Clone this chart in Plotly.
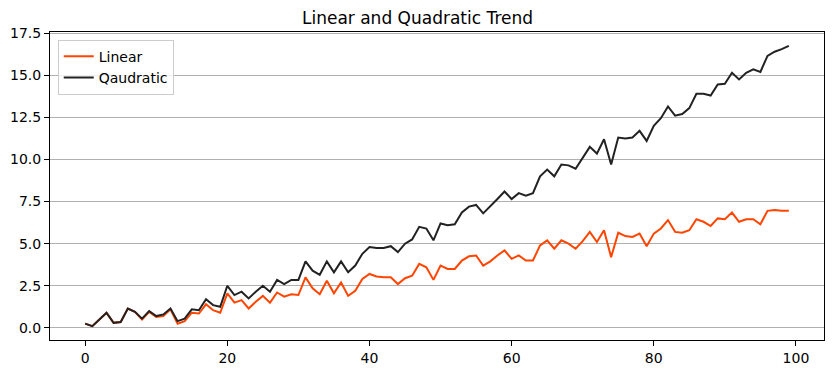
import plotly.graph_objects as go

x_values = list(range(100))

linear = [0.25, 0.1, 0.5, 0.9, 0.3, 0.35, 1.15, 0.95, 0.5, 0.95,
          0.65, 0.7, 1.1, 0.25, 0.4, 0.9, 0.85, 1.4, 1.05, 0.9,
          2.05, 1.5, 1.65, 1.15, 1.55, 1.9, 1.5, 2.1, 1.85, 2.0,
          1.95, 3.0, 2.35, 2.0, 2.8, 2.05, 2.7, 1.9, 2.2, 2.9,
          3.2, 3.05, 3.0, 3.0, 2.6, 2.95, 3.1, 3.8, 3.6, 2.85,
          3.7, 3.5, 3.5, 4.0, 4.25, 4.3, 3.7, 3.95, 4.3, 4.6,
          4.1, 4.3, 4.0, 4.0, 4.9, 5.2, 4.7, 5.2, 5.0, 4.7,
          5.15, 5.7, 5.1, 5.8, 4.2, 5.65, 5.45, 5.4, 5.6, 4.85,
          5.6, 5.9, 6.4, 5.7, 5.65, 5.8, 6.45, 6.3, 6.05, 6.5,
          6.45, 6.85, 6.3, 6.45, 6.45, 6.15, 6.95, 7.0, 6.95, 6.95]

quadratic = [0.25, 0.1, 0.5, 0.9, 0.3, 0.35, 1.15, 0.95, 0.55, 1.0,
             0.7, 0.8, 1.15, 0.4, 0.55, 1.1, 1.05, 1.7, 1.35, 1.25,
             2.5, 1.95, 2.15, 1.75, 2.15, 2.5, 2.15, 2.85, 2.6, 2.85,
             2.85, 3.95, 3.4, 3.15, 3.95, 3.3, 3.95, 3.3, 3.7, 4.4,
             4.8, 4.75, 4.75, 4.85, 4.5, 5.0, 5.25, 6.0, 5.9, 5.2,
             6.2, 6.1, 6.15, 6.85, 7.2, 7.3, 6.8, 7.2, 7.65, 8.1,
             7.65, 8.0, 7.85, 8.0, 9.0, 9.4, 9.0, 9.7, 9.65, 9.45,
             10.1, 10.75, 10.35, 11.2, 9.7, 11.3, 11.25, 11.3, 11.7, 11.1,
             12.0, 12.45, 13.15, 12.6, 12.7, 13.05, 13.9, 13.9, 13.8, 14.45,
             14.5, 15.15, 14.75, 15.15, 15.35, 15.2, 16.15, 16.4, 16.55, 16.75]

y_ticks = [0.0, 2.5, 5.0, 7.5, 10.0, 12.5, 15.0, 17.5]
x_ticks = [0, 20, 40, 60, 80, 100]

fig = go.Figure()
fig.add_trace(go.Scatter(x=x_values, y=linear, mode="lines", name="Linear",
                         line=dict(color="#FF4500", width=2)))
fig.add_trace(go.Scatter(x=x_values, y=quadratic, mode="lines", name="Qaudratic",
                         line=dict(color="#222222", width=2)))

fig.update_layout(
    width=835, height=374,
    margin=dict(l=50, r=11, t=32, b=34, autoexpand=False),
    paper_bgcolor="white", plot_bgcolor="white",
    font=dict(family="DejaVu Sans", size=14, color="black"),
    title=dict(text="Linear and Quadratic Trend", x=0.5, xanchor="center",
               y=1 - 18 / 374, yanchor="middle", font=dict(size=17)),
    showlegend=True,
    legend=dict(x=0.01, y=0.975, xanchor="left", yanchor="top",
                bordercolor="#cccccc", borderwidth=1, bgcolor="rgba(255,255,255,0.8)",
                font=dict(size=14), tracegroupgap=0, itemwidth=30),
    xaxis=dict(range=[-4.95, 103.95], tickvals=x_ticks, showgrid=False, zeroline=False,
               showline=True, linecolor="black", linewidth=1, mirror=True,
               ticks="outside", ticklen=5, tickcolor="black", automargin=False),
    yaxis=dict(range=[-0.72, 17.57], tickvals=y_ticks,
               ticktext=[f"{v:.1f}" for v in y_ticks],
               showgrid=True, gridcolor="#b0b0b0", gridwidth=1, zeroline=False,
               showline=True, linecolor="black", linewidth=1, mirror=True,
               ticks="outside", ticklen=5, tickcolor="black", automargin=False),
)

fig.write_html("out.html", config={"displayModeBar": False},
               post_script="document.body.style.margin='0';document.body.style.padding='0';")
